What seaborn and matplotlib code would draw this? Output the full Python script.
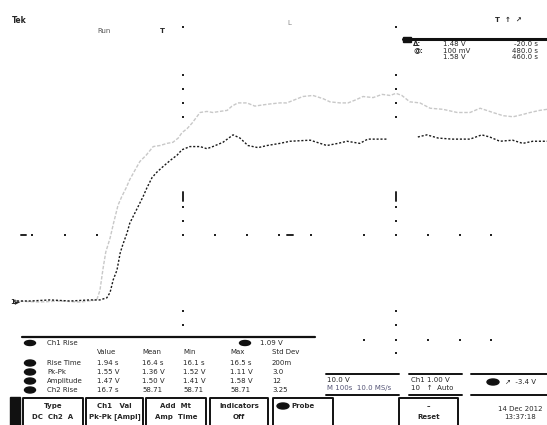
import numpy as np
import pandas as pd
import matplotlib
matplotlib.use("Agg")
import matplotlib.pyplot as plt
import seaborn as sns
from matplotlib.patches import Rectangle, Ellipse

# ── Waveform data (time in s, level in V) ──
ch1_t = [-31.9, -28.7, -25.0, -21.2, -17.5, -15.6, -14.3, -13.7, -13.1, -12.4,
         -11.8, -11.3, -10.5, -10.0, -9.4, -8.6, -8.1, -7.5, -6.8, -5.8,
         -4.9, -3.8, -2.4, -1.1, -0.2, 1.3, 3.2, 4.5, 5.6, 7.5,
         9.4, 10.7, 12.2, 14.1, 15.8, 18.2, 20.1, 23.9, 27.0, 29.1,
         30.8, 33.2, 34.7, 38.3, np.nan, 44.1, 45.8, 47.9, 50.5, 53.9,
         56.1, 57.6, 59.5, 61.9, 63.8, 65.7, 68.4]
ch1_v = [0.00, 0.00, 0.01, 0.00, 0.01, 0.01, 0.03, 0.08, 0.20, 0.29,
         0.45, 0.53, 0.64, 0.73, 0.79, 0.87, 0.92, 0.98, 1.06, 1.16,
         1.21, 1.26, 1.32, 1.37, 1.42, 1.45, 1.45, 1.43, 1.45, 1.49,
         1.56, 1.53, 1.46, 1.44, 1.46, 1.48, 1.50, 1.51, 1.46, 1.48,
         1.50, 1.48, 1.52, 1.52, np.nan, 1.54, 1.56, 1.53, 1.52, 1.52,
         1.56, 1.54, 1.50, 1.51, 1.48, 1.50, 1.50]

ch2_t = [-31.5, -26.9, -23.1, -19.3, -16.2, -15.6, -15.0, -14.5, -13.7, -13.0,
         -12.2, -11.5, -10.7, -10.0, -9.0, -8.1, -6.9, -5.6, -4.3, -3.0,
         -1.9, -0.9, -0.2, 0.8, 1.7, 3.2, 4.5, 5.6, 6.9, 8.3,
         9.2, 10.3, 12.0, 13.5, 14.8, 16.3, 18.2, 19.5, 21.0, 22.5,
         24.4, 26.3, 27.6, 29.5, 31.0, 32.5, 33.8, 35.7, 37.4, 38.9,
         40.0, 41.1, 42.6, 44.5, 46.4, 48.8, 51.5, 53.9, 55.8, 58.2,
         60.1, 62.0, 63.7, 65.2, 67.0, 68.4]
ch2_v = [0.00, -0.01, 0.00, -0.01, 0.01, 0.10, 0.31, 0.46, 0.59, 0.74,
         0.90, 0.98, 1.06, 1.14, 1.23, 1.31, 1.37, 1.45, 1.46, 1.48,
         1.49, 1.53, 1.58, 1.62, 1.67, 1.77, 1.78, 1.77, 1.78, 1.79,
         1.83, 1.86, 1.86, 1.83, 1.84, 1.85, 1.86, 1.86, 1.89, 1.92,
         1.93, 1.90, 1.87, 1.86, 1.86, 1.89, 1.92, 1.91, 1.94, 1.93,
         1.95, 1.93, 1.87, 1.86, 1.81, 1.80, 1.77, 1.77, 1.81, 1.77,
         1.74, 1.73, 1.75, 1.77, 1.79, 1.80]

# ── Readouts shown on screen ──
cursor_rows = [("\u0394:", "1.48 V", "-20.0 s"),
               ("@:", "100 mV", "480.0 s"),
               ("", "1.58 V", "460.0 s")]
meas_title = ["Ch1 Rise", "1.09 V"]
meas_header = ["Value", "Mean", "Min", "Max", "Std Dev"]
meas_names = ["Rise Time", "Pk-Pk", "Amplitude", "Ch2 Rise"]
meas_values = [["1.94 s", "16.4 s", "16.1 s", "16.5 s", "200m"],
               ["1.55 V", "1.36 V", "1.52 V", "1.11 V", "3.0"],
               ["1.47 V", "1.50 V", "1.41 V", "1.58 V", "12"],
               ["16.7 s", "58.71", "58.71", "58.71", "3.25"]]
menu_top = ["Type", "Ch1   Val", "Add  Mt", "Indicators", "Probe", "\u2013"]
menu_bot = ["DC  Ch2  A", "Pk-Pk [Ampl]", "Amp  Time", "Off", "", "Reset"]

# ── Screen geometry (pixels) ──
W, H = 547, 425
PX_PER_DIV = 53.25
SEC_PER_DIV, VOLT_PER_DIV = 10.0, 0.5
T0_PX, V0_PX = 183, 301

sns.set_theme(style="white")
plt.rcParams["font.family"] = ["DejaVu Sans"]

fig = plt.figure(figsize=(W / 100, H / 100), dpi=100)
fig.patch.set_facecolor("white")

# chrome layer in pixel coordinates
ax = fig.add_axes([0, 0, 1, 1])
ax.set_xlim(0, W)
ax.set_ylim(H, 0)
ax.axis("off")

# graticule dots
col_x = [183, 396]
col_y = [27, 75, 89, 103, 117, 207, 221, 235, 311, 325]
row_x = [32, 65, 97, 215, 247, 279, 311, 364, 428, 460, 491]
dots = [(x, y) for x in col_x for y in col_y]
dots += [(x, 235) for x in row_x]
dots += [(x, 340) for x in [364, 396, 428, 460, 491]] + [(396, 353)]
gd = pd.DataFrame(dots, columns=["x", "y"])
sns.scatterplot(data=gd, x="x", y="y", ax=ax, s=3.5, marker="s",
                color="#222222", edgecolor="none", legend=False)
for x in col_x:
    ax.plot([x, x], [192, 201], color="#222222", lw=1.4)
for x0, x1 in [(21, 26), (287, 293)]:
    ax.plot([x0, x1], [235, 235], color="#222222", lw=1.4)

# top texts
fs = 5
ax.text(12, 20, "Tek", fontsize=5.5, fontweight="bold", va="center")
ax.text(97, 31, "Run", fontsize=fs, color="#555555", va="center")
ax.text(160, 31, "T", fontsize=fs, fontweight="bold", va="center")
ax.text(287, 23, "L", fontsize=fs, color="#888888", va="center")
ax.text(495, 20, "T  \u2191  \u2197", fontsize=fs, fontweight="bold", va="center")

# cursor readout box
ax.plot([403, W], [38.5, 38.5], color="#111111", lw=2.2)
ax.add_patch(Rectangle((403, 37), 8, 5, color="#111111"))
for i, (lab, a, b) in enumerate(cursor_rows):
    y = 44 + i * 6.6
    ax.text(413, y, lab, fontsize=fs, fontweight="bold", va="center")
    ax.text(443, y, a, fontsize=fs, va="center")
    ax.text(538, y, b, fontsize=fs, va="center", ha="right")

# ground marker
ax.text(10, 301, "1\u25b6", fontsize=5, fontweight="bold", va="center")

# measurement table
ax.plot([22, 315], [337, 337], color="#111111", lw=1.6)
ax.add_patch(Ellipse((30, 343), 11, 5, color="#111111"))
ax.text(47, 343, meas_title[0], fontsize=fs, va="center")
ax.add_patch(Ellipse((245, 343), 11, 5, color="#111111"))
ax.text(260, 343, meas_title[1], fontsize=fs, va="center")
cols = [97, 142, 183, 230, 272]
for cx, hd in zip(cols, meas_header):
    ax.text(cx, 352, hd, fontsize=fs, va="center")
for r, (nm, vals) in enumerate(zip(meas_names, meas_values)):
    y = 363 + r * 9
    ax.add_patch(Ellipse((30, y), 11, 6, color="#111111"))
    ax.text(47, y, nm, fontsize=fs, va="center")
    for cx, v in zip(cols, vals):
        ax.text(cx, y, v, fontsize=fs, va="center")

# scale readouts
for x0, x1 in [(326, 399), (409, 462), (471, W)]:
    ax.plot([x0, x1], [374, 374], color="#111111", lw=1.4)
    ax.plot([x0, x1], [395, 395], color="#111111", lw=1.4)
ax.text(327, 380, "10.0 V", fontsize=fs, va="center")
ax.text(327, 388, "M 100s  10.0 MS/s", fontsize=fs, color="#555577", va="center")
ax.text(411, 380, "Ch1 1.00 V", fontsize=fs, va="center")
ax.text(411, 388, "10   \u2191  Auto", fontsize=fs, va="center")
ax.add_patch(Ellipse((493, 382), 12, 6, color="#111111"))
ax.text(505, 382, "\u2197  -3.4 V", fontsize=fs, va="center")

# bottom menu
ax.add_patch(Rectangle((10, 397), 10, 30, color="#111111"))
boxes = [(23, 83), (86, 143), (146, 206), (210, 268), (273, 333), (399, 458)]
for (x0, x1), t1, t2 in zip(boxes, menu_top, menu_bot):
    ax.plot([x0, x0, x1, x1], [H + 2, 398, 398, H + 2], color="#111111", lw=1.4)
    cx = (x0 + x1) / 2
    ax.text(cx, 406, t1, fontsize=fs, ha="center", va="center", fontweight="bold")
    ax.text(cx, 417, t2, fontsize=fs, ha="center", va="center", fontweight="bold")
ax.add_patch(Ellipse((283, 406), 12, 6, color="#111111"))
ax.text(520, 409, "14 Dec 2012", fontsize=fs, ha="center", va="center")
ax.text(520, 417, "13:37:18", fontsize=fs, ha="center", va="center")

# waveform layer in time / volts, aligned to the screen
axw = fig.add_axes([0, 0, 1, 1])
axw.patch.set_alpha(0)
axw.axis("off")
axw.set_xlim(-T0_PX * SEC_PER_DIV / PX_PER_DIV, (W - T0_PX) * SEC_PER_DIV / PX_PER_DIV)
axw.set_ylim((V0_PX - H) * VOLT_PER_DIV / PX_PER_DIV, V0_PX * VOLT_PER_DIV / PX_PER_DIV)

ch1 = pd.DataFrame({"t": ch1_t, "v": ch1_v})
ch1["seg"] = ch1["t"].isna().cumsum()
ch1 = ch1.dropna()
ch2 = pd.DataFrame({"t": ch2_t, "v": ch2_v, "seg": 0})

sns.lineplot(data=ch2, x="t", y="v", units="seg", estimator=None, sort=False,
             ax=axw, color="#c8c8c8", lw=1.0, legend=False)
axw.lines[-1].set_linestyle((0, (2.5, 1.2)))
sns.lineplot(data=ch1, x="t", y="v", units="seg", estimator=None, sort=False,
             ax=axw, color="#1a1a1a", lw=1.0, legend=False)
for ln in axw.lines[1:]:
    ln.set_linestyle((0, (1.5, 1.3)))

fig.savefig("out.png", dpi=100, facecolor="white")
